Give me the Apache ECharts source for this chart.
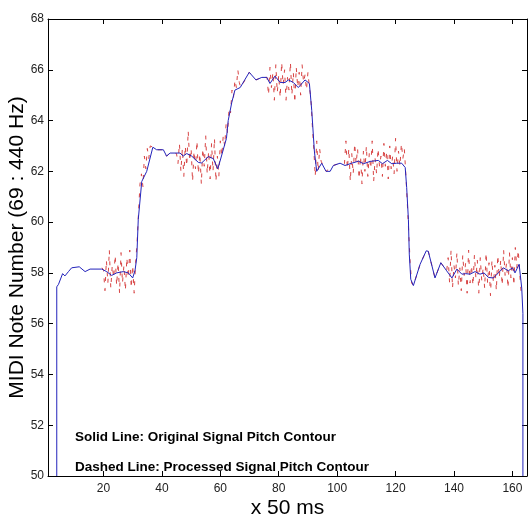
<!DOCTYPE html>
<html>
<head>
<meta charset="utf-8">
<script src="https://cdn.jsdelivr.net/npm/echarts@6/dist/echarts.min.js"></script>
<style>html,body{margin:0;padding:0;background:#fff}#c{width:529px;height:517px}</style>
</head>
<body>
<div id="c"></div>
<script>
// ---- data ----
const xTicks = [20, 40, 60, 80, 100, 120, 140, 160];
const yTicks = [50, 52, 54, 56, 58, 60, 62, 64, 66, 68];
const xTitle = 'x 50 ms';
const yTitle = 'MIDI Note Number (69 : 440 Hz)';
const note1 = 'Solid Line: Original Signal Pitch Contour';
const note2 = 'Dashed Line: Processed Signal Pitch Contour';

// Original signal pitch contour (solid blue)
const blueX = [4, 4, 4.6, 6, 6.8, 8, 9.1, 11.7, 13.7, 15.4, 19.4, 21.1, 22.8, 24.5, 26.8, 28.5, 30, 30.8, 31.4, 31.9,
  33.1, 34.8, 36.9, 38.2, 40.5, 41.6, 42.8, 46.2, 47.3, 48.5, 50.2, 52.5, 53.6, 55.9, 57.6, 59.1, 59.9, 62.1, 62.7, 63.9,
  65, 66.8, 69.9, 72.2, 74.2, 75.9, 77, 78.7, 80.5, 82.2, 83.3, 85, 86.7, 89, 90.5, 91.3, 92.2, 93, 94.7, 96.2,
  97.6, 98.7, 101, 102.7, 105, 107.3, 109, 111.3, 114.1, 115.5, 117.2, 118.7, 120.4, 122.1, 123.3, 123.8, 124.4, 124.7, 125.2, 126.1,
  128.4, 130.5, 131.2, 133.5, 135.5, 137.5, 139.3, 141, 142.7, 144, 145.5, 147.2, 148.9, 150.3, 151.8, 153.5, 155.2, 156.9, 158.6, 160,
  160.9, 162.3, 163.2, 163.6, 163.6];
const blueY = [50, 57.45, 57.55, 57.97, 57.88, 58.05, 58.2, 58.24, 58.05, 58.15, 58.15, 58.05, 57.9, 58.0, 58.05, 58.0, 57.8, 58.1, 58.6, 60.1,
  61.6, 62.0, 62.95, 62.85, 62.85, 62.6, 62.72, 62.72, 62.6, 62.7, 62.6, 62.35, 62.33, 62.58, 62.5, 62.1, 62.4, 63.3, 64.0, 64.7,
  65.2, 65.3, 65.9, 65.6, 65.7, 65.7, 65.46, 65.75, 65.5, 65.5, 65.6, 65.5, 65.3, 65.6, 65.46, 64.4, 62.8, 62.0, 62.32, 62.0,
  62.0, 62.23, 62.32, 62.23, 62.32, 62.4, 62.3, 62.39, 62.43, 62.3, 62.43, 62.3, 62.32, 62.32, 62.15, 61.37, 60.1, 58.74, 57.75, 57.5,
  58.34, 58.87, 58.85, 57.8, 58.4, 58.08, 57.8, 58.15, 57.95, 57.97, 57.95, 58.05, 57.95, 58.0, 57.82, 57.8, 58.0, 58.2, 58.08, 58.2,
  58.0, 58.34, 57.4, 56.4, 50];

// Processed signal pitch contour (dashed red)
const redX = [19.5, 20, 20.5, 21, 21.5, 22, 22.5, 23, 23.5, 24, 24.5, 25, 25.5, 26, 26.5, 27, 27.5, 28, 28.5, 29, 29.5, 30, 30.5, 31,
  31.5, 32, 32.5, 33, 33.5, 34, 34.5, 35, 35.5, 36, 37, 38, 40, 41.6, 42.8, 45,
  45.5, 46, 46.5, 47, 47.5, 48, 48.5, 49, 49.5, 50, 50.5, 51, 51.5, 52, 52.5, 53, 53.5, 54, 54.5, 55, 55.5, 56, 56.5, 57, 57.5, 58,
  58.5, 59, 59.5, 60, 60.5, 61, 61.5, 62, 62.5, 63, 63.5, 64, 64.5, 65, 65.5, 66, 66.5, 67, 69.9, 72.2, 74.2, 76,
  76.5, 77, 77.5, 78, 78.5, 79, 79.5, 80, 80.5, 81, 81.5, 82, 82.5, 83, 83.5, 84, 84.5, 85, 85.5, 86, 86.5, 87, 87.5, 88, 88.5, 89,
  89.5, 90, 90.5, 91, 91.5, 92, 92.5, 93, 93.5, 94, 94.5, 96.2, 98.7, 101, 102.5,
  103, 103.5, 104, 104.5, 105, 105.5, 106, 106.5, 107, 107.5, 108, 108.5, 109, 109.5, 110, 110.5, 111, 111.5, 112, 112.5, 113, 113.5,
  114, 114.5, 115, 115.5, 116, 116.5, 117, 117.5, 118, 118.5, 119, 119.5, 120, 120.5, 121, 121.5, 122, 122.5, 123, 123.5, 124, 124.5,
  125, 125.5, 126.1, 128.4, 130.5, 131.2, 133.5, 135.5, 137.5,
  138, 138.5, 139, 139.5, 140, 140.5, 141, 141.5, 142, 142.5, 143, 143.5, 144, 144.5, 145, 145.5, 146, 146.5, 147, 147.5, 148, 148.5,
  149, 149.5, 150, 150.5, 151, 151.5, 152, 152.5, 153, 153.5, 154, 154.5, 155, 155.5, 156, 156.5, 157, 157.5, 158, 158.5, 159, 159.5,
  160, 160.5, 161, 161.5, 162, 162.5, 163];
const redY = [58.2, 58.1, 57.3, 58.5, 57.6, 58.9, 57.4, 58.3, 57.8, 58.7, 57.5, 58.4, 57.2, 58.8, 57.6, 58.3, 57.3, 58.6, 57.8, 58.9, 57.4, 58.3, 57.2, 58.4,
  59.2, 60.4, 61.5, 61.9, 61.4, 62.6, 62.1, 62.9, 62.5, 63.0, 62.95, 62.85, 62.85, 62.6, 62.72, 62.7,
  62.3, 63.1, 62.0, 62.9, 61.8, 63.0, 62.2, 63.6, 62.4, 62.9, 61.6, 62.8, 62.1, 63.2, 61.9, 62.7, 61.5, 62.9, 62.2, 63.4, 61.9, 62.8, 61.7, 63.1, 62.0, 63.3,
  61.6, 62.6, 61.8, 63.2, 62.6, 63.4, 63.0, 63.9, 63.5, 64.5, 64.3, 65.2, 64.9, 65.6, 65.3, 66.0, 65.5, 65.3, 65.9, 65.6, 65.7, 65.7,
  65.0, 66.1, 65.3, 65.9, 64.8, 66.2, 65.1, 65.8, 64.9, 66.3, 65.4, 66.0, 64.8, 65.7, 65.2, 66.3, 65.0, 65.9, 64.7, 66.1, 65.3, 65.9, 65.0, 66.2, 65.5, 65.8,
  65.2, 65.9, 65.3, 64.9, 63.8, 62.9, 61.8, 63.2, 62.0, 62.9, 62.4, 62.0, 62.23, 62.32, 62.3,
  63.2, 62.1, 62.9, 61.6, 62.7, 61.9, 63.1, 62.3, 62.9, 61.7, 62.6, 61.5, 62.8, 62.0, 63.0, 61.8, 62.7, 62.1, 63.2, 61.6, 62.5, 61.9,
  62.9, 62.2, 62.6, 61.8, 63.1, 62.2, 62.8, 61.7, 63.0, 62.1, 62.6, 61.9, 63.3, 62.0, 62.8, 62.2, 63.1, 62.5, 62.9, 61.9, 60.8, 59.6,
  58.4, 57.6, 57.5, 58.34, 58.87, 58.85, 57.8, 58.4, 58.08,
  58.6, 57.6, 58.9, 57.4, 58.3, 57.8, 58.8, 57.5, 58.2, 57.3, 58.7, 57.9, 58.4, 57.2, 58.9, 57.6, 58.3, 57.5, 58.7, 57.8, 58.5, 57.2,
  58.6, 57.7, 58.2, 57.4, 58.8, 57.6, 58.4, 57.1, 58.5, 57.6, 58.3, 57.3, 58.7, 57.8, 58.5, 57.5, 58.9, 57.9, 58.4, 57.4, 58.8, 57.8,
  58.6, 57.5, 59.0, 58.2, 58.9, 58.0, 57.2];

// ---- chart ----
const pairs = (xs, ys) => xs.map((x, i) => [x, ys[i]]);
const tickFont = "'Liberation Sans Narrow', 'Liberation Sans', Arial, sans-serif";
const baseFont = "'Liberation Sans', Arial, sans-serif";

const axisLine = { show: true, lineStyle: { color: '#000', width: 1 } };
const chart = echarts.init(document.getElementById('c'), null, { renderer: 'canvas' });
chart.setOption({
  animation: false,
  backgroundColor: '#fff',
  grid: { left: 48, right: 2, top: 19, bottom: 41, containLabel: false, outerBoundsMode: 'none' },
  xAxis: [
    {
      type: 'value', min: 1, max: 165, position: 'bottom',
      axisLine: axisLine,
      axisTick: { show: true, inside: true, length: 5, customValues: xTicks, lineStyle: { color: '#000' } },
      axisLabel: { customValues: xTicks, fontSize: 12, fontFamily: tickFont, color: '#222', margin: 7 },
      splitLine: { show: false },
      name: xTitle, nameLocation: 'middle', nameGap: 22, nameMoveOverlap: false,
      nameTextStyle: { fontSize: 21, fontFamily: tickFont, color: '#000' }
    },
    {
      type: 'value', min: 1, max: 165, position: 'top',
      axisLine: axisLine,
      axisTick: { show: true, inside: true, length: 5, customValues: xTicks, lineStyle: { color: '#000' } },
      axisLabel: { show: false },
      splitLine: { show: false }
    }
  ],
  yAxis: [
    {
      type: 'value', min: 50, max: 68, interval: 2, position: 'left',
      axisLine: axisLine,
      axisTick: { show: true, inside: true, length: 5, lineStyle: { color: '#000' } },
      axisLabel: { fontSize: 12, fontFamily: tickFont, color: '#222', margin: 4 },
      splitLine: { show: false },
      name: yTitle, nameLocation: 'middle', nameRotate: 90, nameGap: 20, nameMoveOverlap: false,
      nameTextStyle: { fontSize: 21, fontFamily: baseFont, color: '#000' }
    },
    {
      type: 'value', min: 50, max: 68, interval: 2, position: 'right',
      axisLine: axisLine,
      axisTick: { show: true, inside: true, length: 5, lineStyle: { color: '#000' } },
      axisLabel: { show: false },
      splitLine: { show: false }
    }
  ],
  series: [
    {
      name: 'Processed', type: 'line', xAxisIndex: 0, yAxisIndex: 0,
      data: pairs(redX, redY), showSymbol: false, symbol: 'none',
      lineStyle: { color: '#d84444', width: 1, type: [4, 7] }
    },
    {
      name: 'Original', type: 'line', xAxisIndex: 0, yAxisIndex: 0,
      data: pairs(blueX, blueY), showSymbol: false, symbol: 'none',
      lineStyle: { color: '#2323bb', width: 1 }
    }
  ],
  graphic: [
    { type: 'text', left: 75, top: 430, style: { text: note1, font: "bold 13.5px 'Liberation Sans', Arial, sans-serif", fill: '#000' } },
    { type: 'text', left: 75, top: 460, style: { text: note2, font: "bold 13.5px 'Liberation Sans', Arial, sans-serif", fill: '#000' } }
  ]
});
</script>
</body>
</html>
